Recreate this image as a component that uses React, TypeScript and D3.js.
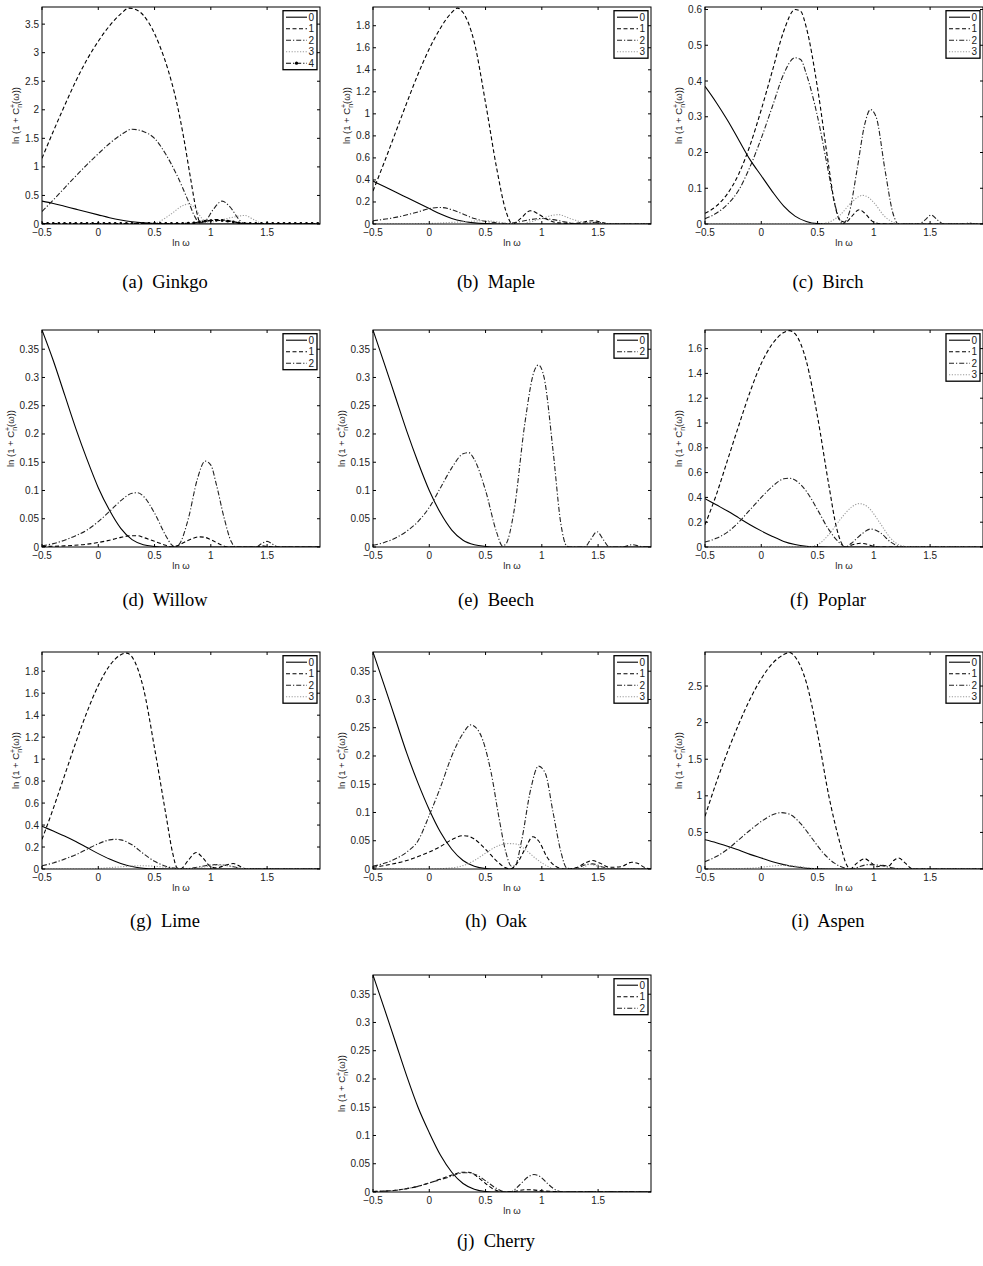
import React, { useEffect, useRef } from "react";
import * as d3 from "d3";

type Pt = [number, number];

const X_TICKS = [-0.5, 0, 0.5, 1, 1.5];
const X_MIN = -0.5;
const X_MAX = 1.97;

// y tick sets
const ticksGinkgo = [0, 0.5, 1, 1.5, 2, 2.5, 3, 3.5];
const ticksTwo = [0, 0.2, 0.4, 0.6, 0.8, 1, 1.2, 1.4, 1.6, 1.8];
const ticksBirch = [0, 0.1, 0.2, 0.3, 0.4, 0.5, 0.6];
const ticksSmall = [0, 0.05, 0.1, 0.15, 0.2, 0.25, 0.3, 0.35];
const ticksPoplar = [0, 0.2, 0.4, 0.6, 0.8, 1, 1.2, 1.4, 1.6];
const ticksAspen = [0, 0.5, 1, 1.5, 2, 2.5];

// (a) Ginkgo
const ginkgo0: Pt[] = [[-0.5, 0.4], [-0.4, 0.36], [-0.3, 0.31], [-0.2, 0.26], [-0.1, 0.21], [0, 0.16], [0.1, 0.11], [0.2, 0.07], [0.3, 0.04], [0.4, 0.02], [0.5, 0.008], [0.6, 0.002], [0.7, 0], [1.97, 0]];
const ginkgo1: Pt[] = [[-0.5, 1.15], [-0.4, 1.62], [-0.3, 2.07], [-0.2, 2.5], [-0.1, 2.88], [0, 3.2], [0.1, 3.47], [0.2, 3.68], [0.27, 3.78], [0.35, 3.74], [0.45, 3.52], [0.55, 3.1], [0.62, 2.7], [0.7, 2.1], [0.76, 1.5], [0.82, 0.8], [0.87, 0.25], [0.9, 0.05], [0.95, 0.05], [1.05, 0.08], [1.15, 0.06], [1.25, 0.02], [1.3, 0], [1.97, 0]];
const ginkgo2: Pt[] = [[-0.5, 0.22], [-0.4, 0.42], [-0.3, 0.63], [-0.2, 0.84], [-0.1, 1.04], [0, 1.23], [0.1, 1.41], [0.2, 1.56], [0.3, 1.66], [0.4, 1.62], [0.5, 1.5], [0.6, 1.22], [0.7, 0.85], [0.8, 0.4], [0.86, 0.12], [0.9, 0.02], [0.95, 0.05], [1.02, 0.25], [1.1, 0.4], [1.17, 0.3], [1.25, 0.08], [1.3, 0], [1.97, 0]];
const ginkgo3: Pt[] = [[-0.5, 0], [0.45, 0], [0.55, 0.05], [0.65, 0.18], [0.75, 0.32], [0.8, 0.35], [0.85, 0.3], [0.92, 0.1], [0.97, 0.02], [1.05, 0.05], [1.2, 0.12], [1.3, 0.15], [1.38, 0.08], [1.45, 0.01], [1.5, 0], [1.97, 0]];
const ginkgo4Values = [
  0.01, 0.01, 0.01, 0.01, 0.01, 0.01, 0.01, 0.01, 0.01, 0.01,
  0.01, 0.01, 0.01, 0.01, 0.01, 0.01, 0.01, 0.01, 0.01, 0.01,
  0.01, 0.01, 0.01, 0.01, 0.01, 0.01, 0.015, 0.02, 0.035, 0.05,
  0.06, 0.065, 0.06, 0.05, 0.035, 0.02, 0.012, 0.01, 0.01, 0.01,
  0.01, 0.01, 0.01, 0.01, 0.01, 0.01, 0.01, 0.01, 0.01, 0.01,
];
const ginkgo4: Pt[] = ginkgo4Values.map((v, i) => [-0.5 + i * 0.05, v]);

// (b) Maple
const maple0: Pt[] = [[-0.5, 0.39], [-0.4, 0.34], [-0.3, 0.29], [-0.2, 0.24], [-0.1, 0.19], [0, 0.14], [0.1, 0.09], [0.2, 0.05], [0.3, 0.025], [0.4, 0.01], [0.5, 0.003], [0.6, 0], [1.97, 0]];
const maple1: Pt[] = [[-0.5, 0.3], [-0.4, 0.56], [-0.3, 0.83], [-0.2, 1.1], [-0.1, 1.36], [0, 1.59], [0.1, 1.78], [0.2, 1.92], [0.25, 1.96], [0.3, 1.92], [0.4, 1.65], [0.5, 1.1], [0.6, 0.5], [0.68, 0.12], [0.74, 0], [0.8, 0.04], [0.9, 0.12], [0.97, 0.09], [1.05, 0.04], [1.15, 0.01], [1.3, 0.005], [1.45, 0.03], [1.55, 0.01], [1.6, 0], [1.97, 0]];
const maple2: Pt[] = [[-0.5, 0.03], [-0.3, 0.06], [-0.1, 0.11], [0, 0.14], [0.1, 0.15], [0.2, 0.13], [0.3, 0.09], [0.4, 0.05], [0.5, 0.025], [0.6, 0.01], [0.7, 0.005], [0.8, 0.02], [0.9, 0.04], [1.0, 0.05], [1.1, 0.04], [1.2, 0.02], [1.3, 0.005], [1.4, 0.01], [1.5, 0.015], [1.6, 0], [1.97, 0]];
const maple3: Pt[] = [[-0.5, 0], [0, 0.005], [0.3, 0.02], [0.5, 0.03], [0.6, 0.02], [0.7, 0.005], [0.8, 0], [0.9, 0.02], [1.0, 0.05], [1.1, 0.08], [1.15, 0.085], [1.25, 0.05], [1.35, 0.02], [1.45, 0.01], [1.55, 0.005], [1.6, 0], [1.97, 0]];

// (c) Birch
const birch0: Pt[] = [[-0.5, 0.385], [-0.4, 0.34], [-0.3, 0.29], [-0.2, 0.235], [-0.1, 0.18], [0, 0.135], [0.1, 0.09], [0.2, 0.05], [0.3, 0.022], [0.4, 0.007], [0.5, 0.001], [0.6, 0], [1.97, 0]];
const birch1: Pt[] = [[-0.5, 0.03], [-0.4, 0.05], [-0.3, 0.085], [-0.2, 0.14], [-0.1, 0.22], [0, 0.32], [0.1, 0.43], [0.2, 0.54], [0.3, 0.6], [0.35, 0.595], [0.4, 0.55], [0.5, 0.38], [0.6, 0.16], [0.65, 0.06], [0.7, 0.01], [0.75, 0.005], [0.8, 0.02], [0.87, 0.04], [0.92, 0.03], [1.0, 0.005], [1.1, 0], [1.97, 0]];
const birch2: Pt[] = [[-0.5, 0.015], [-0.4, 0.03], [-0.3, 0.055], [-0.2, 0.095], [-0.1, 0.16], [0, 0.24], [0.1, 0.33], [0.2, 0.42], [0.3, 0.465], [0.35, 0.46], [0.4, 0.42], [0.5, 0.3], [0.6, 0.14], [0.65, 0.06], [0.7, 0.01], [0.72, 0], [0.78, 0.03], [0.85, 0.15], [0.92, 0.28], [0.97, 0.32], [1.02, 0.3], [1.1, 0.15], [1.17, 0.03], [1.22, 0], [1.4, 0], [1.45, 0.01], [1.51, 0.025], [1.57, 0.01], [1.62, 0], [1.8, 0], [1.85, 0.003], [1.9, 0], [1.97, 0]];
const birch3: Pt[] = [[-0.5, 0], [0.5, 0], [0.6, 0.005], [0.7, 0.025], [0.8, 0.06], [0.9, 0.08], [0.95, 0.075], [1.0, 0.06], [1.1, 0.02], [1.2, 0.002], [1.25, 0], [1.97, 0]];

// (d) Willow
const willow0: Pt[] = [[-0.5, 0.384], [-0.4, 0.33], [-0.3, 0.27], [-0.2, 0.21], [-0.1, 0.155], [0, 0.105], [0.1, 0.065], [0.2, 0.033], [0.3, 0.013], [0.4, 0.004], [0.5, 0.001], [0.6, 0], [1.97, 0]];
const willow1: Pt[] = [[-0.5, 0.001], [-0.3, 0.002], [-0.1, 0.005], [0, 0.008], [0.1, 0.012], [0.2, 0.017], [0.3, 0.02], [0.35, 0.02], [0.4, 0.017], [0.5, 0.01], [0.6, 0.003], [0.65, 0], [0.7, 0.002], [0.8, 0.012], [0.9, 0.018], [0.95, 0.017], [1.0, 0.013], [1.1, 0.003], [1.15, 0], [1.4, 0], [1.45, 0.002], [1.5, 0.001], [1.55, 0], [1.97, 0]];
const willow2: Pt[] = [[-0.5, 0.002], [-0.4, 0.006], [-0.3, 0.012], [-0.2, 0.02], [-0.1, 0.03], [0, 0.045], [0.1, 0.063], [0.2, 0.082], [0.3, 0.095], [0.35, 0.096], [0.4, 0.09], [0.5, 0.06], [0.6, 0.02], [0.65, 0.004], [0.68, 0], [0.72, 0.005], [0.8, 0.05], [0.88, 0.12], [0.95, 0.152], [1.0, 0.145], [1.05, 0.11], [1.12, 0.05], [1.18, 0.01], [1.22, 0], [1.4, 0], [1.45, 0.006], [1.5, 0.01], [1.55, 0.005], [1.6, 0], [1.97, 0]];

// (e) Beech
const beech0: Pt[] = [[-0.5, 0.384], [-0.4, 0.325], [-0.3, 0.265], [-0.2, 0.205], [-0.1, 0.15], [0, 0.1], [0.1, 0.06], [0.2, 0.03], [0.3, 0.012], [0.4, 0.004], [0.5, 0.001], [0.6, 0], [1.97, 0]];
const beech2: Pt[] = [[-0.5, 0.003], [-0.4, 0.008], [-0.3, 0.016], [-0.2, 0.028], [-0.1, 0.045], [0, 0.07], [0.1, 0.105], [0.2, 0.14], [0.3, 0.165], [0.35, 0.167], [0.4, 0.155], [0.5, 0.1], [0.6, 0.025], [0.65, 0.002], [0.68, 0.005], [0.75, 0.06], [0.85, 0.22], [0.93, 0.31], [0.97, 0.322], [1.02, 0.3], [1.1, 0.17], [1.17, 0.04], [1.22, 0.002], [1.25, 0], [1.38, 0], [1.43, 0.012], [1.49, 0.027], [1.55, 0.012], [1.6, 0], [1.72, 0], [1.8, 0.004], [1.88, 0.001], [1.97, 0]];

// (f) Poplar
const poplar0: Pt[] = [[-0.5, 0.39], [-0.4, 0.34], [-0.3, 0.29], [-0.2, 0.235], [-0.1, 0.18], [0, 0.13], [0.1, 0.085], [0.2, 0.045], [0.3, 0.02], [0.4, 0.006], [0.5, 0.001], [0.6, 0], [1.97, 0]];
const poplar1: Pt[] = [[-0.5, 0.18], [-0.4, 0.42], [-0.3, 0.7], [-0.2, 0.98], [-0.1, 1.25], [0, 1.48], [0.1, 1.64], [0.2, 1.73], [0.25, 1.745], [0.3, 1.72], [0.4, 1.5], [0.5, 1.05], [0.6, 0.5], [0.67, 0.15], [0.72, 0.02], [0.75, 0], [0.8, 0.015], [0.88, 0.03], [0.95, 0.02], [1.0, 0.005], [1.05, 0], [1.97, 0]];
const poplar2: Pt[] = [[-0.5, 0.04], [-0.4, 0.07], [-0.3, 0.12], [-0.2, 0.2], [-0.1, 0.3], [0, 0.4], [0.1, 0.49], [0.2, 0.55], [0.25, 0.555], [0.3, 0.54], [0.4, 0.45], [0.5, 0.3], [0.6, 0.14], [0.7, 0.03], [0.75, 0], [0.8, 0.03], [0.9, 0.11], [0.97, 0.145], [1.05, 0.12], [1.15, 0.04], [1.22, 0.005], [1.25, 0], [1.97, 0]];
const poplar3: Pt[] = [[-0.5, 0], [0.4, 0], [0.5, 0.02], [0.6, 0.1], [0.7, 0.22], [0.8, 0.32], [0.87, 0.35], [0.95, 0.32], [1.05, 0.2], [1.15, 0.07], [1.22, 0.02], [1.3, 0.003], [1.4, 0], [1.97, 0]];

// (g) Lime
const lime0: Pt[] = [[-0.5, 0.39], [-0.4, 0.345], [-0.3, 0.3], [-0.2, 0.25], [-0.1, 0.195], [0, 0.14], [0.1, 0.09], [0.2, 0.05], [0.3, 0.022], [0.4, 0.007], [0.5, 0.001], [0.6, 0], [1.97, 0]];
const lime1: Pt[] = [[-0.5, 0.27], [-0.4, 0.55], [-0.3, 0.85], [-0.2, 1.15], [-0.1, 1.43], [0, 1.67], [0.1, 1.85], [0.2, 1.95], [0.25, 1.965], [0.3, 1.93], [0.4, 1.65], [0.5, 1.1], [0.6, 0.5], [0.66, 0.15], [0.7, 0.01], [0.73, 0], [0.8, 0.08], [0.87, 0.15], [0.93, 0.1], [1.0, 0.02], [1.05, 0.01], [1.12, 0.03], [1.2, 0.05], [1.25, 0.03], [1.3, 0.005], [1.35, 0], [1.97, 0]];
const lime2: Pt[] = [[-0.5, 0.03], [-0.4, 0.055], [-0.3, 0.09], [-0.2, 0.13], [-0.1, 0.18], [0, 0.23], [0.1, 0.265], [0.15, 0.27], [0.2, 0.265], [0.3, 0.22], [0.4, 0.14], [0.5, 0.07], [0.6, 0.025], [0.7, 0.005], [0.75, 0], [0.85, 0.01], [0.95, 0.03], [1.05, 0.04], [1.15, 0.03], [1.25, 0.01], [1.35, 0], [1.5, 0.005], [1.6, 0], [1.97, 0]];
const lime3: Pt[] = [[-0.5, 0], [-0.1, 0], [0, 0.005], [0.2, 0.02], [0.35, 0.03], [0.5, 0.025], [0.65, 0.01], [0.75, 0.002], [0.85, 0.005], [0.95, 0.02], [1.05, 0.035], [1.15, 0.03], [1.25, 0.01], [1.35, 0], [1.97, 0]];

// (h) Oak
const oak0: Pt[] = [[-0.5, 0.384], [-0.4, 0.325], [-0.3, 0.265], [-0.2, 0.205], [-0.1, 0.152], [0, 0.105], [0.1, 0.065], [0.2, 0.035], [0.3, 0.015], [0.4, 0.005], [0.5, 0.001], [0.6, 0], [1.97, 0]];
const oak1: Pt[] = [[-0.5, 0.003], [-0.4, 0.006], [-0.3, 0.01], [-0.2, 0.015], [-0.1, 0.022], [0, 0.03], [0.1, 0.04], [0.2, 0.052], [0.3, 0.059], [0.35, 0.058], [0.4, 0.053], [0.5, 0.035], [0.6, 0.014], [0.68, 0.002], [0.72, 0], [0.78, 0.01], [0.85, 0.035], [0.92, 0.057], [0.97, 0.05], [1.05, 0.02], [1.12, 0.005], [1.2, 0], [1.3, 0.002], [1.4, 0.012], [1.45, 0.015], [1.52, 0.01], [1.6, 0.003], [1.7, 0.004], [1.8, 0.012], [1.85, 0.01], [1.92, 0.002], [1.97, 0]];
const oak2: Pt[] = [[-0.5, 0.005], [-0.4, 0.01], [-0.3, 0.018], [-0.2, 0.03], [-0.1, 0.05], [0, 0.095], [0.1, 0.145], [0.2, 0.2], [0.3, 0.24], [0.37, 0.255], [0.45, 0.24], [0.55, 0.17], [0.62, 0.09], [0.68, 0.03], [0.73, 0.005], [0.76, 0.005], [0.82, 0.05], [0.9, 0.14], [0.97, 0.182], [1.03, 0.17], [1.1, 0.1], [1.17, 0.03], [1.22, 0.002], [1.3, 0], [1.38, 0.007], [1.45, 0.009], [1.55, 0.003], [1.6, 0], [1.97, 0]];
const oak3: Pt[] = [[-0.5, 0], [0, 0], [0.2, 0.002], [0.3, 0.006], [0.4, 0.015], [0.5, 0.028], [0.6, 0.04], [0.7, 0.045], [0.78, 0.044], [0.85, 0.035], [0.95, 0.018], [1.05, 0.005], [1.12, 0], [1.35, 0], [1.42, 0.008], [1.5, 0.005], [1.6, 0], [1.97, 0]];

// (i) Aspen
const aspen0: Pt[] = [[-0.5, 0.4], [-0.4, 0.36], [-0.3, 0.31], [-0.2, 0.26], [-0.1, 0.2], [0, 0.15], [0.1, 0.1], [0.2, 0.06], [0.3, 0.03], [0.4, 0.01], [0.5, 0.002], [0.6, 0], [1.97, 0]];
const aspen1: Pt[] = [[-0.5, 0.72], [-0.4, 1.18], [-0.3, 1.6], [-0.2, 1.98], [-0.1, 2.32], [0, 2.6], [0.1, 2.81], [0.2, 2.93], [0.25, 2.96], [0.3, 2.9], [0.4, 2.55], [0.5, 1.85], [0.6, 1.0], [0.7, 0.35], [0.76, 0.05], [0.79, 0], [0.85, 0.08], [0.92, 0.14], [0.98, 0.08], [1.03, 0.03], [1.08, 0.05], [1.13, 0.04], [1.18, 0.12], [1.22, 0.15], [1.28, 0.08], [1.33, 0.01], [1.37, 0], [1.97, 0]];
const aspen2: Pt[] = [[-0.5, 0.1], [-0.4, 0.17], [-0.3, 0.27], [-0.2, 0.4], [-0.1, 0.53], [0, 0.65], [0.1, 0.74], [0.18, 0.77], [0.25, 0.75], [0.35, 0.62], [0.45, 0.42], [0.55, 0.22], [0.65, 0.08], [0.75, 0.01], [0.8, 0], [0.85, 0.02], [0.95, 0.06], [1.05, 0.05], [1.15, 0.02], [1.25, 0], [1.97, 0]];
const aspen3: Pt[] = [[-0.5, 0], [-0.1, 0.01], [0.1, 0.04], [0.2, 0.05], [0.3, 0.04], [0.45, 0.01], [0.55, 0], [1.97, 0]];

// (j) Cherry
const cherry0: Pt[] = [[-0.5, 0.384], [-0.4, 0.325], [-0.3, 0.265], [-0.2, 0.205], [-0.1, 0.15], [0, 0.105], [0.1, 0.065], [0.2, 0.035], [0.3, 0.015], [0.4, 0.005], [0.5, 0.001], [0.6, 0], [1.97, 0]];
const cherry1: Pt[] = [[-0.5, 0.001], [-0.3, 0.003], [-0.2, 0.006], [-0.1, 0.01], [0, 0.016], [0.1, 0.023], [0.2, 0.03], [0.3, 0.035], [0.35, 0.035], [0.42, 0.028], [0.5, 0.015], [0.58, 0.004], [0.65, 0], [0.75, 0.001], [0.85, 0.004], [0.9, 0.004], [1.0, 0.002], [1.1, 0.001], [1.2, 0], [1.97, 0]];
const cherry2: Pt[] = [[-0.5, 0.001], [-0.3, 0.003], [-0.2, 0.006], [-0.1, 0.01], [0, 0.016], [0.1, 0.022], [0.2, 0.028], [0.3, 0.034], [0.35, 0.034], [0.42, 0.03], [0.5, 0.02], [0.6, 0.006], [0.68, 0], [0.72, 0], [0.8, 0.012], [0.88, 0.027], [0.93, 0.031], [0.98, 0.028], [1.05, 0.015], [1.12, 0.004], [1.18, 0], [1.5, 0.001], [1.97, 0]];

type Series = { key: string; pts: Pt[] };
type Panel = { tag: string; name: string; col: number; row: number; yMax: number; yTicks: number[]; series: Series[] };

const PANELS: Panel[] = [
  { tag: "(a)", name: "Ginkgo", col: 0, row: 0, yMax: 3.8, yTicks: ticksGinkgo, series: [{ key: "0", pts: ginkgo0 }, { key: "1", pts: ginkgo1 }, { key: "2", pts: ginkgo2 }, { key: "3", pts: ginkgo3 }, { key: "4", pts: ginkgo4 }] },
  { tag: "(b)", name: "Maple", col: 1, row: 0, yMax: 1.97, yTicks: ticksTwo, series: [{ key: "0", pts: maple0 }, { key: "1", pts: maple1 }, { key: "2", pts: maple2 }, { key: "3", pts: maple3 }] },
  { tag: "(c)", name: "Birch", col: 2, row: 0, yMax: 0.607, yTicks: ticksBirch, series: [{ key: "0", pts: birch0 }, { key: "1", pts: birch1 }, { key: "2", pts: birch2 }, { key: "3", pts: birch3 }] },
  { tag: "(d)", name: "Willow", col: 0, row: 1, yMax: 0.384, yTicks: ticksSmall, series: [{ key: "0", pts: willow0 }, { key: "1", pts: willow1 }, { key: "2", pts: willow2 }] },
  { tag: "(e)", name: "Beech", col: 1, row: 1, yMax: 0.384, yTicks: ticksSmall, series: [{ key: "0", pts: beech0 }, { key: "2", pts: beech2 }] },
  { tag: "(f)", name: "Poplar", col: 2, row: 1, yMax: 1.75, yTicks: ticksPoplar, series: [{ key: "0", pts: poplar0 }, { key: "1", pts: poplar1 }, { key: "2", pts: poplar2 }, { key: "3", pts: poplar3 }] },
  { tag: "(g)", name: "Lime", col: 0, row: 2, yMax: 1.975, yTicks: ticksTwo, series: [{ key: "0", pts: lime0 }, { key: "1", pts: lime1 }, { key: "2", pts: lime2 }, { key: "3", pts: lime3 }] },
  { tag: "(h)", name: "Oak", col: 1, row: 2, yMax: 0.384, yTicks: ticksSmall, series: [{ key: "0", pts: oak0 }, { key: "1", pts: oak1 }, { key: "2", pts: oak2 }, { key: "3", pts: oak3 }] },
  { tag: "(i)", name: "Aspen", col: 2, row: 2, yMax: 2.965, yTicks: ticksAspen, series: [{ key: "0", pts: aspen0 }, { key: "1", pts: aspen1 }, { key: "2", pts: aspen2 }, { key: "3", pts: aspen3 }] },
  { tag: "(j)", name: "Cherry", col: 1, row: 3, yMax: 0.384, yTicks: ticksSmall, series: [{ key: "0", pts: cherry0 }, { key: "1", pts: cherry1 }, { key: "2", pts: cherry2 }] },
];

// layout
const COL_X = [42, 373, 705];
const ROW_Y = [7, 330, 652, 975];
const CAPTION_Y = [288, 606, 927, 1247];
const PW = 278;
const PH = 217;

const STYLES: Record<string, { dash: string | null; color: string; marker?: boolean }> = {
  "0": { dash: null, color: "#000" },
  "1": { dash: "4,2.5", color: "#000" },
  "2": { dash: "5,2,1.2,2", color: "#222" },
  "3": { dash: "1.2,1.6", color: "#9c9c9c" },
  "4": { dash: "5,2,1.2,2", color: "#000", marker: true },
};

const tickFmt = (v: number) => String(+v.toFixed(2)).replace("-", "\u2212");

function App() {
  const ref = useRef<SVGSVGElement | null>(null);

  useEffect(() => {
    if (!ref.current) return;
    const root = d3.select(ref.current);
    root.selectAll("*").remove();

    PANELS.forEach((p, idx) => {
      const left = COL_X[p.col];
      const top = ROW_Y[p.row];
      const g = root.append("g").attr("transform", `translate(${left},${top})`);

      const x = d3.scaleLinear().domain([X_MIN, X_MAX]).range([0, PW]);
      const y = d3.scaleLinear().domain([0, p.yMax]).range([PH, 0]);

      const clipId = `clip${idx}`;
      g.append("clipPath").attr("id", clipId).append("rect").attr("width", PW).attr("height", PH);

      // curves
      const line = d3.line<Pt>().x(d => x(d[0])).y(d => y(d[1])).curve(d3.curveMonotoneX);
      const plot = g.append("g").attr("clip-path", `url(#${clipId})`);
      p.series.forEach(s => {
        const st = STYLES[s.key];
        plot.append("path")
          .attr("d", line(s.pts))
          .attr("fill", "none")
          .attr("stroke", st.color)
          .attr("stroke-width", 1.1)
          .attr("stroke-dasharray", st.dash);
        if (st.marker) {
          plot.selectAll(null).data(s.pts).join("circle")
            .attr("cx", d => x(d[0])).attr("cy", d => y(d[1])).attr("r", 1.4).attr("fill", st.color);
        }
      });

      // box + inward ticks
      g.append("rect").attr("width", PW).attr("height", PH)
        .attr("fill", "none").attr("stroke", "#000").attr("stroke-width", 1);
      const tl = 3;
      X_TICKS.forEach(t => {
        g.append("line").attr("x1", x(t)).attr("x2", x(t)).attr("y1", PH).attr("y2", PH - tl).attr("stroke", "#000");
        g.append("line").attr("x1", x(t)).attr("x2", x(t)).attr("y1", 0).attr("y2", tl).attr("stroke", "#000");
      });
      p.yTicks.forEach(t => {
        g.append("line").attr("x1", 0).attr("x2", tl).attr("y1", y(t)).attr("y2", y(t)).attr("stroke", "#000");
        g.append("line").attr("x1", PW).attr("x2", PW - tl).attr("y1", y(t)).attr("y2", y(t)).attr("stroke", "#000");
      });

      const font = "'Liberation Sans', Arial, sans-serif";
      // tick labels
      g.selectAll(null).data(X_TICKS).join("text")
        .attr("x", d => x(d)).attr("y", PH + 12)
        .attr("text-anchor", "middle").attr("font-family", font).attr("font-size", 10).attr("fill", "#222")
        .text(d => tickFmt(d));
      const yLabels = g.selectAll(null).data(p.yTicks).join("text")
        .attr("x", -3).attr("y", d => y(d) + 3.5)
        .attr("text-anchor", "end").attr("font-family", font).attr("font-size", 10).attr("fill", "#222")
        .text(d => tickFmt(d));
      let maxW = 0;
      yLabels.each(function () {
        const w = (this as SVGTextElement).getComputedTextLength();
        if (w > maxW) maxW = w;
      });

      // axis labels
      g.append("text").attr("x", PW / 2).attr("y", PH + 22)
        .attr("text-anchor", "middle").attr("font-family", font).attr("font-size", 9.5).attr("fill", "#222")
        .text("ln \u03c9");
      const yl = g.append("text")
        .attr("transform", `translate(${-(maxW + 9)},${PH / 2}) rotate(-90)`)
        .attr("text-anchor", "middle").attr("font-family", font).attr("font-size", 9.5).attr("fill", "#222");
      yl.append("tspan").text("ln (1 + C");
      yl.append("tspan").attr("font-size", 7).attr("dy", -4).text("+");
      yl.append("tspan").attr("font-size", 7).attr("dx", -4).attr("dy", 7).text("n");
      yl.append("tspan").attr("dy", -3).text("(\u03c9))");

      // legend
      const n = p.series.length;
      const lw = 34;
      const lh = 11.5 * n + 1.5;
      const lg = g.append("g").attr("transform", `translate(${PW - 3 - lw},3.7)`);
      lg.append("rect").attr("width", lw).attr("height", lh)
        .attr("fill", "#fff").attr("stroke", "#000").attr("stroke-width", 1.3);
      p.series.forEach((s, i) => {
        const st = STYLES[s.key];
        const cy = 6.5 + 11.5 * i;
        lg.append("line").attr("x1", 3).attr("x2", 24).attr("y1", cy).attr("y2", cy)
          .attr("stroke", st.color).attr("stroke-width", 1.1).attr("stroke-dasharray", st.dash);
        if (st.marker) {
          lg.append("circle").attr("cx", 13.5).attr("cy", cy).attr("r", 1.6).attr("fill", st.color);
        }
        lg.append("text").attr("x", 25.5).attr("y", cy + 3.5)
          .attr("font-family", font).attr("font-size", 10).attr("fill", "#222").text(s.key);
      });

      // caption
      root.append("text")
        .attr("x", left + 123).attr("y", CAPTION_Y[p.row])
        .attr("text-anchor", "middle")
        .attr("font-family", "'Liberation Serif', 'Times New Roman', serif")
        .attr("font-size", 18.5).attr("fill", "#000")
        .attr("xml:space", "preserve")
        .text(`${p.tag}  ${p.name}`);
    });
  }, []);

  return (
    <svg ref={ref} width={983} height={1266}
      style={{ position: "absolute", left: 0, top: 0, background: "#fff" }} />
  );
}

export default App;
